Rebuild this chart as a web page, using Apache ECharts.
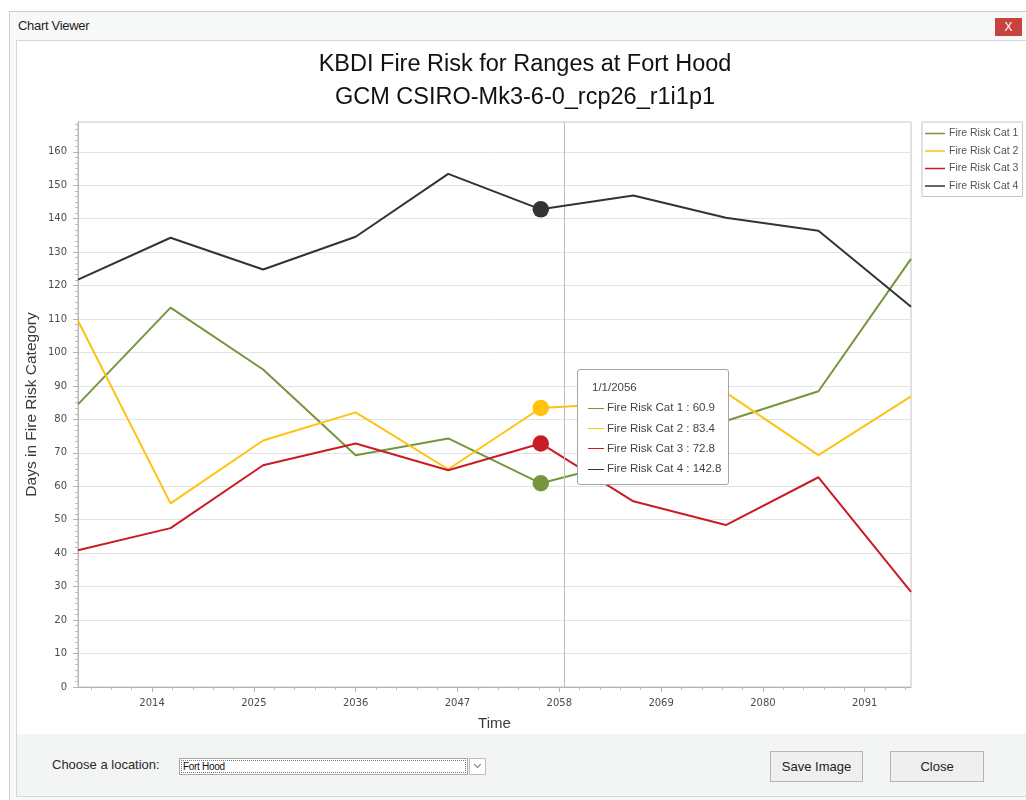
<!DOCTYPE html>
<html>
<head>
<meta charset="utf-8">
<title>Chart Viewer</title>
<script src="https://cdn.jsdelivr.net/npm/echarts@6/dist/echarts.min.js"></script>
<style>
  html, body { margin: 0; padding: 0; width: 1026px; height: 800px; background: #fff; overflow: hidden;
    font-family: "Liberation Sans", Arial, sans-serif; }
  .frame { position: absolute; left: 9px; top: 11px; width: 1017px; height: 789px; background: #f7f8f8;
    border-top: 1px solid #c9cdd0; border-left: 1px solid #c9cdd0; }
  .caption { position: absolute; left: 18px; top: 18px; font-size: 13px; color: #1f1f1f; letter-spacing: -0.3px; }
  .closex { position: absolute; left: 995px; top: 18px; width: 27px; height: 18px; background: #c8423f;
    color: #fff; font-size: 12px; line-height: 18px; text-align: center; }
  .content { position: absolute; left: 16px; top: 40px; width: 1010px; height: 693px; background: #fff;
    border-top: 1px solid #d5d8da; border-left: 1px solid #d5d8da; }
  .panel { position: absolute; left: 16px; top: 734px; width: 1010px; height: 62px; background: #f3f4f4;
    border-left: 1px solid #d5d8da; border-bottom: 1px solid #d5d8da; }
  #chart { position: absolute; left: 0; top: 0; width: 1026px; height: 733px; z-index: 2; }
  .lbl { position: absolute; left: 52px; top: 757px; font-size: 13px; color: #2a2a2a; }
  .combo { position: absolute; left: 179px; top: 758px; width: 289px; height: 17px; background: #fff;
    border: 1px solid #a7a7a7; box-sizing: border-box; }
  .combo .focus { position: absolute; left: 1px; top: 1px; right: 1px; bottom: 1px; border: 1px dotted #777; }
  .combo .txt { position: absolute; left: 3px; top: 2px; font-size: 10px; color: #111; letter-spacing: -0.3px; }
  .drop { position: absolute; left: 469px; top: 758px; width: 17px; height: 17px; background: #fff;
    border: 1px solid #bdbdbd; box-sizing: border-box; }
  .drop .chev { position: absolute; left: 5px; top: 3px; width: 4px; height: 4px; border-right: 1px solid #777;
    border-bottom: 1px solid #777; transform: rotate(45deg); }
  .btn { position: absolute; top: 751px; height: 31px; background: #efefef; border: 1px solid #b5b5b5;
    box-sizing: border-box; font-size: 13px; color: #222; text-align: center; line-height: 29px; }
</style>
</head>
<body>
<div class="frame"></div>
<div class="caption">Chart Viewer</div>
<div class="closex">X</div>
<div class="content"></div>
<div class="panel"></div>
<div class="lbl">Choose a location:</div>
<div class="combo"><div class="focus"></div><div class="txt">Fort Hood</div></div>
<div class="drop"><div class="chev"></div></div>
<div class="btn" style="left:770px;width:93px;">Save Image</div>
<div class="btn" style="left:890px;width:94px;">Close</div>
<div id="chart"></div>
<script>
// Model years (1 January of each year)
const years = [2006, 2016, 2026, 2036, 2046, 2056, 2066, 2076, 2086, 2096];

// Days per year in each KBDI fire risk category
const riskCat1 = [84.5, 113.4, 94.9, 69.3, 74.3, 60.9, 68.0, 79.5, 88.4, 128.0];
const riskCat2 = [109.5, 54.9, 73.7, 82.1, 65.1, 83.4, 85.0, 88.0, 69.3, 86.9];
const riskCat3 = [40.9, 47.5, 66.3, 72.8, 64.8, 72.8, 55.5, 48.4, 62.7, 28.4];
const riskCat4 = [121.8, 134.3, 124.8, 134.6, 153.4, 142.8, 146.9, 140.3, 136.4, 113.7];

const seriesNames = ['Fire Risk Cat 1', 'Fire Risk Cat 2', 'Fire Risk Cat 3', 'Fire Risk Cat 4'];
const seriesColors = ['#76953d', '#ffc20e', '#c81d25', '#333333'];

// Axis labelling
const xTickYears = [2014, 2025, 2036, 2047, 2058, 2069, 2080, 2091];
const xMinorPerMajor = 5;
const yTickStep = 10;
const yMinorPerMajor = 6;
const xRange = [2006, 2096];
const yRange = [0, 168.9];

// Current selection under the cursor
const selectedYear = 2056;
const cursorAt = [2058.5, 95];

const titleText = 'KBDI Fire Risk for Ranges at Fort Hood';
const subtitleText = 'GCM CSIRO-Mk3-6-0_rcp26_r1i1p1';

const tickFont = '"DejaVu Sans", Verdana, sans-serif';
const uiFont = '"Liberation Sans", Arial, sans-serif';

function toPoints(values) {
  return years.map((yr, i) => yr === selectedYear
    ? { value: [yr, values[i]], symbol: 'circle', symbolSize: 15 }
    : [yr, values[i]]);
}

// minor tick positions between the labelled ticks
const xStep = xTickYears[1] - xTickYears[0];
const xMinor = [];
for (let t = xTickYears[0] - xStep; t <= xRange[1] + 1e-9; t += xStep / xMinorPerMajor) {
  const r = Math.round(t * 1000) / 1000;
  if (r >= xRange[0] && r <= xRange[1] && !xTickYears.includes(r)) xMinor.push(r);
}
const yMinor = [];
for (let v = 0; v <= yRange[1] + 1e-9; v += yTickStep / yMinorPerMajor) {
  const r = Math.round(v * 1000) / 1000;
  if (Math.abs(r / yTickStep - Math.round(r / yTickStep)) > 1e-6) yMinor.push(r);
}

const allSeries = [riskCat1, riskCat2, riskCat3, riskCat4].map((vals, i) => ({
  name: seriesNames[i],
  type: 'line',
  xAxisIndex: 0,
  yAxisIndex: 0,
  data: toPoints(vals),
  symbol: 'none',
  showSymbol: true,
  color: seriesColors[i],
  lineStyle: { width: 2, color: seriesColors[i] },
  itemStyle: { color: seriesColors[i] },
  emphasis: { disabled: true },
  z: 2 + i
}));

// vertical cursor line through the plot
allSeries[0].markLine = {
  silent: true,
  symbol: 'none',
  animation: false,
  label: { show: false },
  lineStyle: { color: '#bdbdbd', width: 1, type: 'solid' },
  emphasis: { disabled: true },
  data: [{ xAxis: cursorAt[0] }]
};

const chart = echarts.init(document.getElementById('chart'), null, { renderer: 'canvas' });

chart.setOption({
  animation: false,
  backgroundColor: 'transparent',
  title: [
    { text: titleText, left: 520, top: 48, textAlign: 'center',
      textStyle: { fontFamily: uiFont, fontSize: 23.5, fontWeight: 'normal', color: '#111' } },
    { text: subtitleText, left: 520, top: 81, textAlign: 'center',
      textStyle: { fontFamily: uiFont, fontSize: 23.5, fontWeight: 'normal', color: '#111' } }
  ],
  legend: {
    orient: 'vertical',
    left: 922, top: 122,
    padding: [6, 4, 5, 3],
    itemWidth: 20, itemHeight: 1.5, itemGap: 6.5,
    icon: 'rect',
    borderColor: '#c4c4c4', borderWidth: 1, backgroundColor: '#fff',
    textStyle: { fontFamily: uiFont, fontSize: 10.5, color: '#555', padding: [0, 0, 0, -1] },
    data: seriesNames
  },
  grid: {
    left: 78, top: 122, right: 115, bottom: 46,
    outerBoundsMode: 'none',
    containLabel: false,
    show: true, borderColor: '#c3c3c3', borderWidth: 1, backgroundColor: 'transparent'
  },
  xAxis: [
    {
      type: 'value', min: xRange[0], max: xRange[1],
      name: 'Time', nameLocation: 'middle', nameGap: 29,
      nameTextStyle: { fontFamily: uiFont, fontSize: 15, color: '#3a3a3a' },
      axisLine: { show: true, lineStyle: { color: '#b4b4b4' } },
      axisTick: { show: true, length: 5, customValues: xTickYears, lineStyle: { color: '#b4b4b4' } },
      axisLabel: { customValues: xTickYears, margin: 11, fontFamily: tickFont, fontSize: 10, color: '#4b4b58',
        formatter: v => String(v) },
      splitLine: { show: false }
    },
    {
      type: 'value', min: xRange[0], max: xRange[1], position: 'bottom',
      axisLine: { show: false },
      axisTick: { show: true, length: 3, customValues: xMinor, lineStyle: { color: '#bcbcbc' } },
      axisLabel: { show: false },
      splitLine: { show: false }
    }
  ],
  yAxis: [
    {
      type: 'value', min: yRange[0], max: yRange[1], interval: yTickStep,
      name: 'Days in Fire Risk Category', nameLocation: 'middle', nameGap: 38,
      nameMoveOverlap: false,
      nameTextStyle: { fontFamily: uiFont, fontSize: 15.5, color: '#3a3a3a' },
      axisLine: { show: true, lineStyle: { color: '#b4b4b4' } },
      axisTick: { show: true, length: 5, lineStyle: { color: '#b4b4b4' } },
      axisLabel: { margin: 11, fontFamily: tickFont, fontSize: 10, color: '#4b4b58', showMaxLabel: false },
      splitLine: { show: true, lineStyle: { color: '#e3e3e3' } }
    },
    {
      type: 'value', min: yRange[0], max: yRange[1], position: 'left',
      axisLine: { show: false },
      axisTick: { show: true, length: 3, customValues: yMinor, lineStyle: { color: '#bcbcbc' } },
      axisLabel: { show: false },
      splitLine: { show: false }
    }
  ],
  tooltip: {
    trigger: 'axis',
    alwaysShowContent: true,
    showDelay: 0,
    transitionDuration: 0,
    axisPointer: { type: 'none' },
    backgroundColor: '#fff',
    borderColor: '#a4a4a4',
    borderWidth: 1,
    borderRadius: 3,
    padding: [7, 7, 6, 10],
    extraCssText: 'box-shadow:none;',
    position: pt => [pt[0] + 13, pt[1]],
    formatter: params => {
      const list = params.filter(p => p.seriesType === 'line');
      const yr = list.length ? list[0].value[0] : selectedYear;
      let html = '<div style="font-family:' + uiFont.replace(/"/g, "'") +
        ';font-size:11.5px;color:#444;line-height:20.3px;">';
      html += '<div style="padding-left:4px">1/1/' + yr + '</div>';
      list.forEach(p => {
        html += '<div style="white-space:nowrap"><span style="display:inline-block;width:16px;height:0;' +
          'border-top:1.5px solid ' + p.color + ';vertical-align:middle;margin-right:3px"></span>' +
          p.seriesName + ' : ' + p.value[1].toFixed(1) + '</div>';
      });
      return html + '</div>';
    }
  },
  series: allSeries
});

const cursorPx = chart.convertToPixel({ xAxisIndex: 0, yAxisIndex: 0 }, cursorAt);
chart.dispatchAction({ type: 'showTip', x: cursorPx[0], y: cursorPx[1] });
</script>
</body>
</html>
